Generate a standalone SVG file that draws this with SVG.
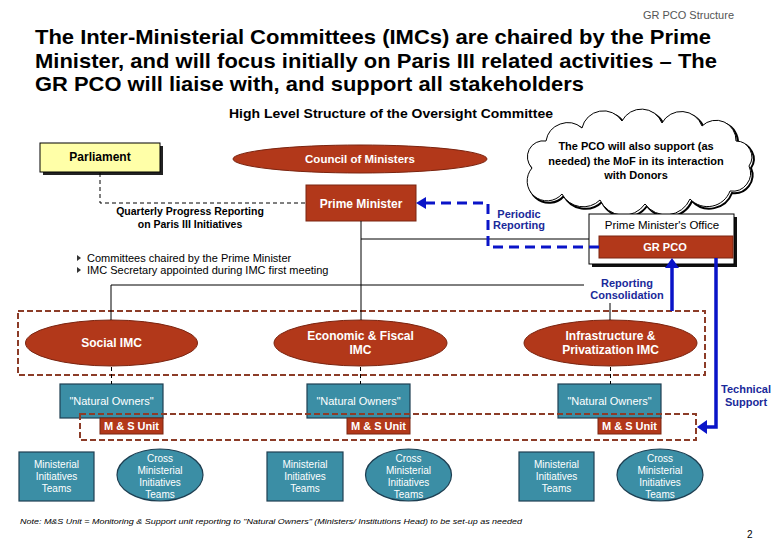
<svg xmlns="http://www.w3.org/2000/svg" width="780" height="540" viewBox="0 0 780 540">
<defs>
<style>
text{font-family:"Liberation Sans",Arial,sans-serif;}
.b{font-weight:bold;}
.nar{font-family:"Liberation Sans Narrow","Liberation Sans",Arial,sans-serif;}
.red{fill:#B2381A;stroke:#7A2410;stroke-width:1;}
.teal{fill:#3B8EA5;stroke:#1E3F52;stroke-width:1.2;}
.wt{fill:#fff;text-anchor:middle;}
.bt{fill:#1A2A9A;font-weight:bold;font-size:11px;text-anchor:middle;}
.blk{fill:#000;text-anchor:middle;}
.ln{stroke:#000;stroke-width:1;fill:none;}
.brn{stroke:#8C3C28;stroke-width:2;stroke-dasharray:6 3;fill:none;}
.blue{stroke:#0A14C8;stroke-width:3.5;fill:none;}
</style>
</defs>
<rect width="780" height="540" fill="#fff"/>

<text x="734" y="19" font-size="11" fill="#555" text-anchor="end" class="nar">GR PCO Structure</text>
<g class="b nar" font-size="21" fill="#000">
<text x="35" y="44" textLength="676" lengthAdjust="spacingAndGlyphs">The Inter-Ministerial Committees (IMCs) are chaired by the Prime</text>
<text x="35" y="68" textLength="682" lengthAdjust="spacingAndGlyphs">Minister, and will focus initially on Paris III related activities – The</text>
<text x="35" y="91" textLength="549" lengthAdjust="spacingAndGlyphs">GR PCO will liaise with, and support all stakeholders</text>
</g>
<text x="229" y="118" font-size="12.5" class="b nar" textLength="324" lengthAdjust="spacingAndGlyphs">High Level Structure of the Oversight Committee</text>

<g id="cloud">
<path d="M532,168 A16,16 0 0 1 546,141 A22,22 0 0 1 582,128 A22,22 0 0 1 622,121 A22,22 0 0 1 662,123 A22,22 0 0 1 702,126 A20,20 0 0 1 736,141 A16,16 0 0 1 749,166 A18,18 0 0 1 730,191 A24,24 0 0 1 690,199 A26,26 0 0 1 645,204 A26,26 0 0 1 600,200 A24,24 0 0 1 562,194 A14,14 0 0 1 532,168 z" transform="translate(2,2)" fill="none" stroke="#000" stroke-width="2"/>
<path d="M532,168 A16,16 0 0 1 546,141 A22,22 0 0 1 582,128 A22,22 0 0 1 622,121 A22,22 0 0 1 662,123 A22,22 0 0 1 702,126 A20,20 0 0 1 736,141 A16,16 0 0 1 749,166 A18,18 0 0 1 730,191 A24,24 0 0 1 690,199 A26,26 0 0 1 645,204 A26,26 0 0 1 600,200 A24,24 0 0 1 562,194 A14,14 0 0 1 532,168 z" fill="#fff" stroke="#000" stroke-width="1"/>
<g class="b blk" font-size="11">
<text x="636" y="150">The PCO will also support (as</text>
<text x="636" y="165">needed) the MoF in its interaction</text>
<text x="636" y="179">with Donors</text>
</g>
</g>

<g id="parliament">
<rect x="43" y="146" width="120" height="29" fill="#222"/>
<rect x="40" y="143" width="120" height="29" fill="#FFFFA8" stroke="#000" stroke-width="1"/>
<text x="100" y="161" font-size="12" class="b blk">Parliament</text>
</g>

<g id="council">
<ellipse class="red" cx="360" cy="159" rx="127" ry="14"/>
<text x="360" y="163" font-size="11.5" class="b wt">Council of Ministers</text>
</g>

<g id="pm">
<rect class="red" x="306" y="185" width="110" height="36"/>
<text x="361" y="208" font-size="12" class="b wt">Prime Minister</text>
</g>

<g id="quarterly" class="b blk" font-size="10.5">
<text x="190" y="215">Quarterly Progress Reporting</text>
<text x="190" y="228">on Paris III Initiatives</text>
</g>

<g id="bullets" font-size="11">
<path d="M77,255 L81,258 L77,261 z" fill="#333"/>
<path d="M77,267 L81,270 L77,273 z" fill="#333"/>
<text x="87" y="262">Committees chaired by the Prime Minister</text>
<text x="87" y="274">IMC Secretary appointed during IMC first meeting</text>
</g>

<g id="periodic">
<text x="519" y="218" class="bt">Periodic</text>
<text x="519" y="229" class="bt">Reporting</text>
</g>

<g id="pmo">
<rect x="592" y="217" width="145" height="50" fill="#111"/>
<rect x="589" y="214" width="145" height="50" fill="#fff" stroke="#000" stroke-width="1"/>
<text x="662" y="229" font-size="11.5" class="blk">Prime Minister's Office</text>
</g>

<g id="grpco">
<rect class="red" x="599" y="236" width="134" height="22"/>
<text x="665" y="251" font-size="11" class="b wt">GR PCO</text>
</g>

<g id="repcons">
<text x="627" y="287" class="bt">Reporting</text>
<text x="627" y="299" class="bt">Consolidation</text>
</g>

<rect id="imcbox" class="brn" x="18" y="311" width="687" height="64"/>

<g id="social-imc">
<ellipse class="red" cx="111.5" cy="343" rx="86" ry="23"/>
<text x="111.5" y="347" font-size="12" class="b wt">Social IMC</text>
</g>
<g id="econ-imc">
<ellipse class="red" cx="360.5" cy="343" rx="86.5" ry="23"/>
<text x="360.5" y="340" font-size="12" class="b wt">Economic &amp; Fiscal</text>
<text x="360.5" y="354" font-size="12" class="b wt">IMC</text>
</g>
<g id="infra-imc">
<ellipse class="red" cx="610.5" cy="343" rx="86.5" ry="23"/>
<text x="610.5" y="340" font-size="12" class="b wt">Infrastructure &amp;</text>
<text x="610.5" y="354" font-size="12" class="b wt">Privatization IMC</text>
</g>

<g id="no-social">
<rect class="teal" x="60" y="384" width="103" height="34"/>
<text x="111.5" y="405" font-size="11" class="wt">"Natural Owners"</text>
</g>
<g id="no-econ">
<rect class="teal" x="307" y="384" width="103" height="34"/>
<text x="358.5" y="405" font-size="11" class="wt">"Natural Owners"</text>
</g>
<g id="no-infra">
<rect class="teal" x="558" y="384" width="103" height="34"/>
<text x="609.5" y="405" font-size="11" class="wt">"Natural Owners"</text>
</g>

<rect id="msbox" class="brn" x="80" y="414" width="616" height="26"/>

<g id="ms-social">
<rect class="red" x="100" y="418" width="63" height="16"/>
<text x="131.5" y="430" font-size="11" class="b wt">M &amp; S Unit</text>
</g>
<g id="ms-econ">
<rect class="red" x="347" y="418" width="63" height="16"/>
<text x="378.5" y="430" font-size="11" class="b wt">M &amp; S Unit</text>
</g>
<g id="ms-infra">
<rect class="red" x="598" y="418" width="63" height="16"/>
<text x="629.5" y="430" font-size="11" class="b wt">M &amp; S Unit</text>
</g>

<g id="techsupport">
<text x="746" y="393" class="bt">Technical</text>
<text x="746" y="406" class="bt">Support</text>
</g>

<g id="mit-social" font-size="10">
<rect class="teal" x="19" y="452" width="75" height="49"/>
<text x="56.5" y="468" class="wt">Ministerial</text>
<text x="56.5" y="480" class="wt">Initiatives</text>
<text x="56.5" y="492" class="wt">Teams</text>
</g>
<g id="cmit-social" font-size="10">
<ellipse class="teal" cx="160" cy="475" rx="43" ry="26"/>
<text x="160" y="462" class="wt">Cross</text>
<text x="160" y="474" class="wt">Ministerial</text>
<text x="160" y="486" class="wt">Initiatives</text>
<text x="160" y="498" class="wt">Teams</text>
</g>
<g id="mit-econ" font-size="10">
<rect class="teal" x="267" y="452" width="76" height="49"/>
<text x="305" y="468" class="wt">Ministerial</text>
<text x="305" y="480" class="wt">Initiatives</text>
<text x="305" y="492" class="wt">Teams</text>
</g>
<g id="cmit-econ" font-size="10">
<ellipse class="teal" cx="408.5" cy="475" rx="43" ry="26"/>
<text x="408.5" y="462" class="wt">Cross</text>
<text x="408.5" y="474" class="wt">Ministerial</text>
<text x="408.5" y="486" class="wt">Initiatives</text>
<text x="408.5" y="498" class="wt">Teams</text>
</g>
<g id="mit-infra" font-size="10">
<rect class="teal" x="519" y="452" width="75" height="49"/>
<text x="556.5" y="468" class="wt">Ministerial</text>
<text x="556.5" y="480" class="wt">Initiatives</text>
<text x="556.5" y="492" class="wt">Teams</text>
</g>
<g id="cmit-infra" font-size="10">
<ellipse class="teal" cx="660" cy="475" rx="43" ry="26"/>
<text x="660" y="462" class="wt">Cross</text>
<text x="660" y="474" class="wt">Ministerial</text>
<text x="660" y="486" class="wt">Initiatives</text>
<text x="660" y="498" class="wt">Teams</text>
</g>

<g id="connectors">
<path class="ln" d="M100,173 V203 H306" stroke-dasharray="4 3"/>
<path class="ln" d="M361,221 V320"/>
<path class="ln" d="M361,239 H589"/>
<path class="ln" d="M111,285 H584 M111,285 V320 M610,303 V320"/>
<path class="ln" d="M111.5,367 V384 M360.5,367 V384 M610.5,367 V384" stroke-dasharray="4 3"/>
<path d="M599,247 H488 V203 H420" stroke="#0A14C8" stroke-width="3" stroke-dasharray="10 6" fill="none"/>
<path d="M426,197 L416,203 L426,209 z" fill="#0A14C8"/>
<path class="blue" d="M672,311 V266"/>
<path d="M665,268 L672,258 L679,268 z" fill="#0A14C8"/>
<path class="blue" d="M716,258 V427 H706"/>
<path d="M707,420 L697,427 L707,434 z" fill="#0A14C8"/>
</g>

<text x="20" y="524" font-size="8" font-style="italic" textLength="502" lengthAdjust="spacingAndGlyphs">Note: M&amp;S Unit = Monitoring &amp; Support unit reporting to "Natural Owners" (Ministers/ Institutions Head) to be set-up as needed</text>
<text x="747" y="538" font-size="10">2</text>
</svg>
